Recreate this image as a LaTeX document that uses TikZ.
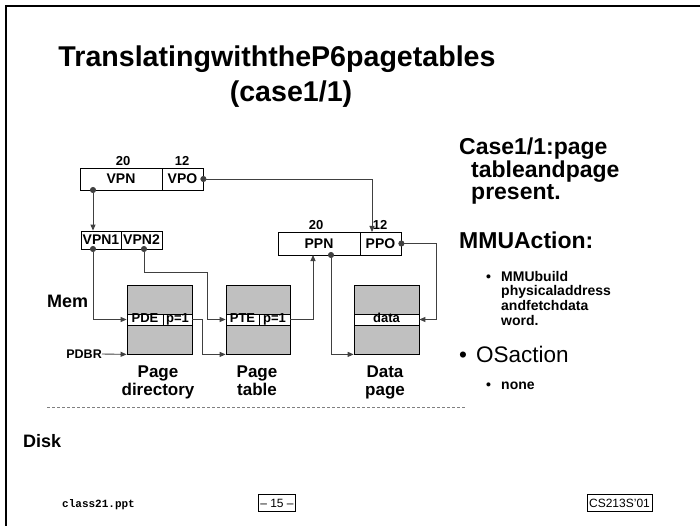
\documentclass[tikz,border=0pt]{standalone}
\usepackage{fontspec}
\setmainfont{Liberation Sans}
\setmonofont{Liberation Mono}
\usetikzlibrary{arrows.meta}
\newcommand{\setfs}[1]{\fontsize{#1}{#1}\selectfont}
\definecolor{pagegray}{HTML}{C0C0C0}
\definecolor{wire}{HTML}{404040}
\tikzset{
  field/.style={draw, line width=0.8pt, minimum height=22, inner sep=0,
    font=\bfseries\setfs{14}},
  bitw/.style={font=\bfseries\setfs{13}, inner sep=0, anchor=base},
  pagebox/.style={draw, line width=0.8pt, fill=pagegray, minimum height=69, inner sep=0},
  entry/.style={draw, line width=0.8pt, fill=white, minimum height=11, inner sep=0,
    text height=8pt, text depth=2pt, font=\bfseries\setfs{13}},
  wirel/.style={draw=wire, line width=0.9pt},
  tip/.style={-{Triangle[length=6pt,width=5pt]}},
  dotboth/.style={{Circle[length=6pt]}-{Triangle[length=6pt,width=5pt]}, shorten <=-3pt},
  caption/.style={font=\bfseries\setfs{17}, align=center, inner sep=0, anchor=base},
  hd/.style={font=\bfseries\setfs{23}, inner sep=0, anchor=base west},
  sub/.style={font=\bfseries\setfs{14}, inner sep=0, anchor=base west},
  tag/.style={draw, line width=0.6pt, font=\setfs{12}, inner xsep=2pt, inner ysep=2pt,
    minimum height=17}
}
\begin{document}
\begin{tikzpicture}[x=1pt,y=-1pt]
\useasboundingbox (0,0) rectangle (700,526);
\fill[white] (0,0) rectangle (700,526);
% slide frame
\draw[line width=2pt] (6,526) -- (6,6) -- (700,6);

% title
\node[font=\bfseries\setfs{28.6}, inner sep=0, anchor=base] (title1) at (277,67) {TranslatingwiththeP6pagetables};
\node[font=\bfseries\setfs{28.6}, inner sep=0, anchor=base] (title2) at (291,102) {(case1/1)};

% virtual address
\node[field, minimum width=82] (vpn) at (121,179) {VPN};
\node[field, minimum width=41] (vpo) at (182.5,179) {VPO};
\node[bitw] (vpnbits) at (123,166) {20};
\node[bitw] (vpobits) at (182,166) {12};

% VPN split
\node[field, minimum width=40, minimum height=18] (vpn1) at (101,240) {VPN1};
\node[field, minimum width=41, minimum height=18] (vpn2) at (141.5,240) {VPN2};

% physical address
\node[field, minimum width=82, minimum height=23] (ppn) at (319,243.5) {PPN};
\node[field, minimum width=41, minimum height=23] (ppo) at (380.5,243.5) {PPO};
\node[bitw] (ppnbits) at (316,230) {20};
\node[bitw] (ppobits) at (380,230) {12};

% pages
\node[pagebox, minimum width=65] (pd) at (159.5,319.5) {};
\node[entry, minimum width=36] (pde) at (145,319.5) {PDE};
\node[entry, minimum width=29] (pdp) at (177.5,319.5) {p=1};

\node[pagebox, minimum width=64] (pt) at (258,319.5) {};
\node[entry, minimum width=33] (pte) at (242.5,319.5) {PTE};
\node[entry, minimum width=31] (ptp) at (274.5,319.5) {p=1};

\node[pagebox, minimum width=65] (dp) at (386.5,319.5) {};
\node[entry, minimum width=65] (dword) at (386.5,319.5) {data};

\node[caption] (pdcap) at (158,395) {Page\\[1pt]directory};
\node[caption] (ptcap) at (257,395) {Page\\[1pt]table};
\node[caption] (dpcap) at (385,395) {Data\\[1pt]page};

\node[font=\bfseries\setfs{12.5}, inner sep=0, anchor=east] (pdbr) at (102,354) {PDBR};

% connector corners
\coordinate (vpnd) at (93,190);
\coordinate (v1d) at (93,249);
\coordinate (v2d) at (144,249);
\coordinate (v2turn) at (207,272);
\coordinate (pdturn) at (202,319.5);
\coordinate (ppnin) at (313,255);
\coordinate (ppnd) at (331,255);
\coordinate (ppoin) at (372,232);
\coordinate (ppoturn) at (436,243.5);

% connectors
\draw[wirel, dotboth] (vpnd) -- (vpnd |- vpn1.north);
\draw[wirel, dotboth] (vpo.east) -| (ppoin);
\draw[wirel, dotboth] (v1d) |- (pde.west);
\draw[wirel, dotboth] (v2d) |- (v2turn) |- (pte.west);
\draw[wirel, tip] (pdp.east) -- (pdturn) |- (pt.south west);
\draw[wirel, tip] (ptp.east) -| (ppnin);
\draw[wirel, dotboth] (ppnd) |- (dp.south west);
\draw[wirel, dotboth] (ppo.east) -- (ppoturn) |- (dword.east);
\draw[wirel, tip] (pdbr.east) -- (pd.south west);

% memory / disk split
\node[font=\bfseries\setfs{18}, inner sep=0, anchor=base west] (mem) at (47,307) {Mem};
\draw[gray, line width=0.8pt, dash pattern=on 3pt off 2pt] (47,407) -- (466,407);
\node[font=\bfseries\setfs{18}, inner sep=0, anchor=base west] (disk) at (23,447) {Disk};

% right-hand notes
\node[hd] (c1) at (459,155) {Case1/1:page};
\node[hd] (c2) at (471,178) {tableandpage};
\node[hd] (c3) at (471,200) {present.};
\node[hd] (m1) at (459,248) {MMUAction:};
\node[sub] (b1) at (486,281) {•};
\node[sub] (t1) at (501,281) {MMUbuild};
\node[sub] (t2) at (501,295) {physicaladdress};
\node[sub] (t3) at (501,310) {andfetchdata};
\node[sub] (t4) at (501,325) {word.};
\node[font=\setfs{22.5}, inner sep=0, anchor=base west] (o1) at (459,362) {•};
\node[font=\setfs{22.5}, inner sep=0, anchor=base west] (o2) at (476,362) {OSaction};
\node[sub] (b2) at (486,389) {•};
\node[sub] (t5) at (501,389) {none};

% footer
\node[font=\ttfamily\bfseries\setfs{11}, inner sep=0, anchor=base west] (file) at (62,507) {class21.ppt};
\node[tag] (pg) at (277,503) {– 15 –};
\node[tag] (course) at (619.5,503) {CS213S'01};
\end{tikzpicture}
\end{document}
